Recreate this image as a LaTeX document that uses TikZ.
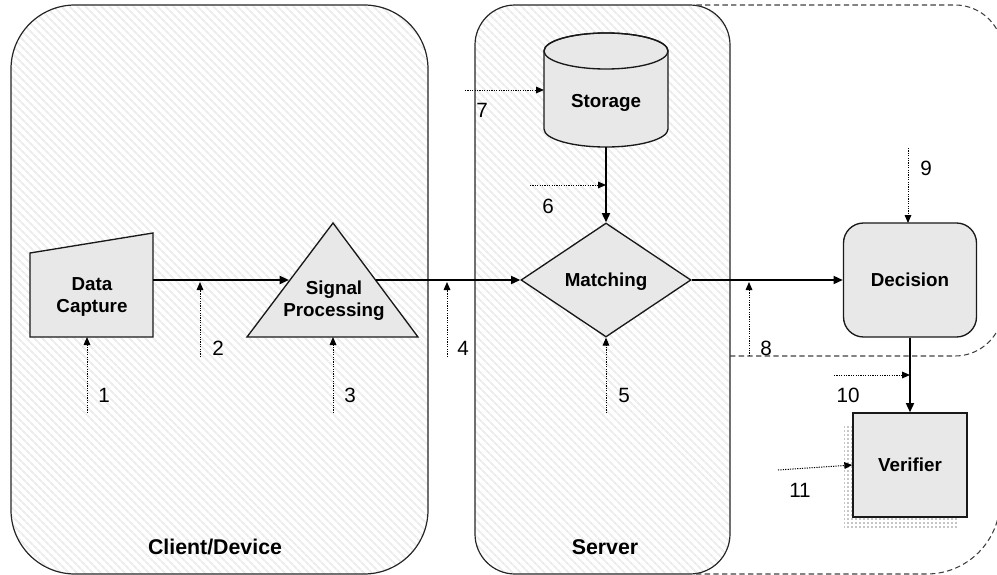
\documentclass[tikz,border=0pt]{standalone}
\usepackage{fontspec}
\setmainfont{Liberation Sans}
\usetikzlibrary{arrows.meta,patterns.meta,shapes.geometric}

\begin{document}
\begin{tikzpicture}[x=0.75pt,y=-0.75pt,
  zone/.style={draw=black!85, line width=0.9pt, rounded corners=#1,
    preaction={fill=white},
    pattern={Lines[angle=-45,distance=4pt,line width=1.6pt]}, pattern color=black!7},
  zoneline/.style={draw=black!75, line width=0.8pt, dash pattern=on 4pt off 2.5pt},
  shapefill/.style={fill=black!9, draw=black!90, line width=1pt},
  box/.style={shapefill, font=\bfseries\fontsize{14.1}{16.5}\selectfont, align=center, text depth=0pt},
  txt/.style={font=\bfseries\fontsize{14.1}{16.5}\selectfont, align=center},
  grouplbl/.style={font=\bfseries\fontsize{16}{19}\selectfont},
  numlbl/.style={font=\fontsize{15.5}{18}\selectfont},
  flow/.style={line width=1.5pt, -{Triangle[length=7pt,width=6pt]}},
  probe/.style={line width=0.75pt, dash pattern=on 0.9pt off 0.9pt,
    -{Triangle[length=6pt,width=5pt]}},
  vshadow/.style={pattern={Dots[distance=3pt,radius=0.6pt]}, pattern color=black!45}
]
\useasboundingbox (0,0) rectangle (997,575);
\clip (0,0) rectangle (997,575);

% tiers
\path[zone=48pt] (11,5) rectangle (428,574);
\path[zone=30pt] (475,5) rectangle (730,574);

% dashed extents to the right of the server
\draw[zoneline, rounded corners=36pt] (730,356) -- (1003,356) -- (1003,5) -- (696,5);
\draw[zoneline, rounded corners=55pt] (696,574) -- (1000,574) -- (1000,300);

% data capture (manual input shape)
\draw[shapefill] (30,253) -- (153,233) -- (153,337) -- (30,337) -- cycle;
\node[txt] (dc) at (92,297) {Data\\Capture};
\coordinate (dc-e) at (153,280);
\coordinate (dc-s) at (87,337);

% signal processing (triangle)
\draw[shapefill] (247,337) -- (333,223) -- (418,337) -- cycle;
\node[txt] (sp) at (334,301) {Signal\\Processing};
\coordinate (sp-w) at (289,280);
\coordinate (sp-e) at (376,280);
\coordinate (sp-s) at (333,337);

% storage (cylinder)
\path[shapefill] (544,51) -- (544,129)
  arc[start angle=180, end angle=360, x radius=46.5pt, y radius=13.5pt]
  -- (668,51)
  arc[start angle=0, end angle=180, x radius=46.5pt, y radius=13.5pt] -- cycle;
\draw[draw=black!90, line width=1pt] (606,51) ellipse[x radius=46.5pt, y radius=13.5pt];
\node[txt, text depth=0pt] (st) at (606,101) {Storage};
\coordinate (st-s) at (606,147);
\coordinate (st-w) at (544,90);

% matching, decision, verifier
\node[box, diamond, aspect=1.5, inner sep=0pt, minimum width=127.5pt, minimum height=85.5pt]
  (mat) at (606,280) {Matching};
\node[box, rounded corners=15pt, minimum width=99.75pt, minimum height=85.5pt]
  (dec) at (910,280) {Decision};
\path[vshadow] (844,426) rectangle (958,527);
\node[box, minimum width=85.5pt, minimum height=78pt] (ver) at (910,465) {Verifier};

% main flow
\draw[flow] (dc-e) -- (sp-w);
\draw[flow] (sp-e) -- (mat.west);
\draw[flow] (st-s) -- (mat.north);
\draw[flow] (mat.east) -- (dec.west);
\draw[flow] (dec.south) -- (ver.north);

% numbered probe points
\coordinate (p1) at (87,413);
\coordinate (p2) at (200,357);   \coordinate (p2e) at (200,282);
\coordinate (p3) at (333,413);
\coordinate (p4) at (447,357);   \coordinate (p4e) at (447,282);
\coordinate (p5) at (606,413);
\coordinate (p6) at (530,185);   \coordinate (p6e) at (606,185);
\coordinate (p7) at (465,90);
\coordinate (p8) at (749,356);   \coordinate (p8e) at (749,282);
\coordinate (p9) at (908,148);   \coordinate (p9e) at (908,223);
\coordinate (p10) at (834,375);  \coordinate (p10e) at (910,375);
\coordinate (p11) at (778,470);

\draw[probe] (p1) -- (dc-s);
\draw[probe] (p2) -- (p2e);
\draw[probe] (p3) -- (sp-s);
\draw[probe] (p4) -- (p4e);
\draw[probe] (p5) -- (mat.south);
\draw[probe] (p6) -- (p6e);
\draw[probe] (p7) -- (st-w);
\draw[probe] (p8) -- (p8e);
\draw[probe] (p9) -- (p9e);
\draw[probe] (p10) -- (p10e);
\draw[probe] (p11) -- (ver.west);

\node[numlbl] (n1) at (104,395) {1};
\node[numlbl] (n2) at (218,348) {2};
\node[numlbl] (n3) at (350,395) {3};
\node[numlbl] (n4) at (463,348) {4};
\node[numlbl] (n5) at (624,395) {5};
\node[numlbl] (n6) at (548,206) {6};
\node[numlbl] (n7) at (482,110) {7};
\node[numlbl] (n8) at (766,348) {8};
\node[numlbl] (n9) at (926,168) {9};
\node[numlbl] (n10) at (848,395) {10};
\node[numlbl] (n11) at (800,490) {11};

% tier labels
\node[grouplbl] (client) at (215,547) {Client/Device};
\node[grouplbl] (server) at (605,547) {Server};
\end{tikzpicture}
\end{document}
